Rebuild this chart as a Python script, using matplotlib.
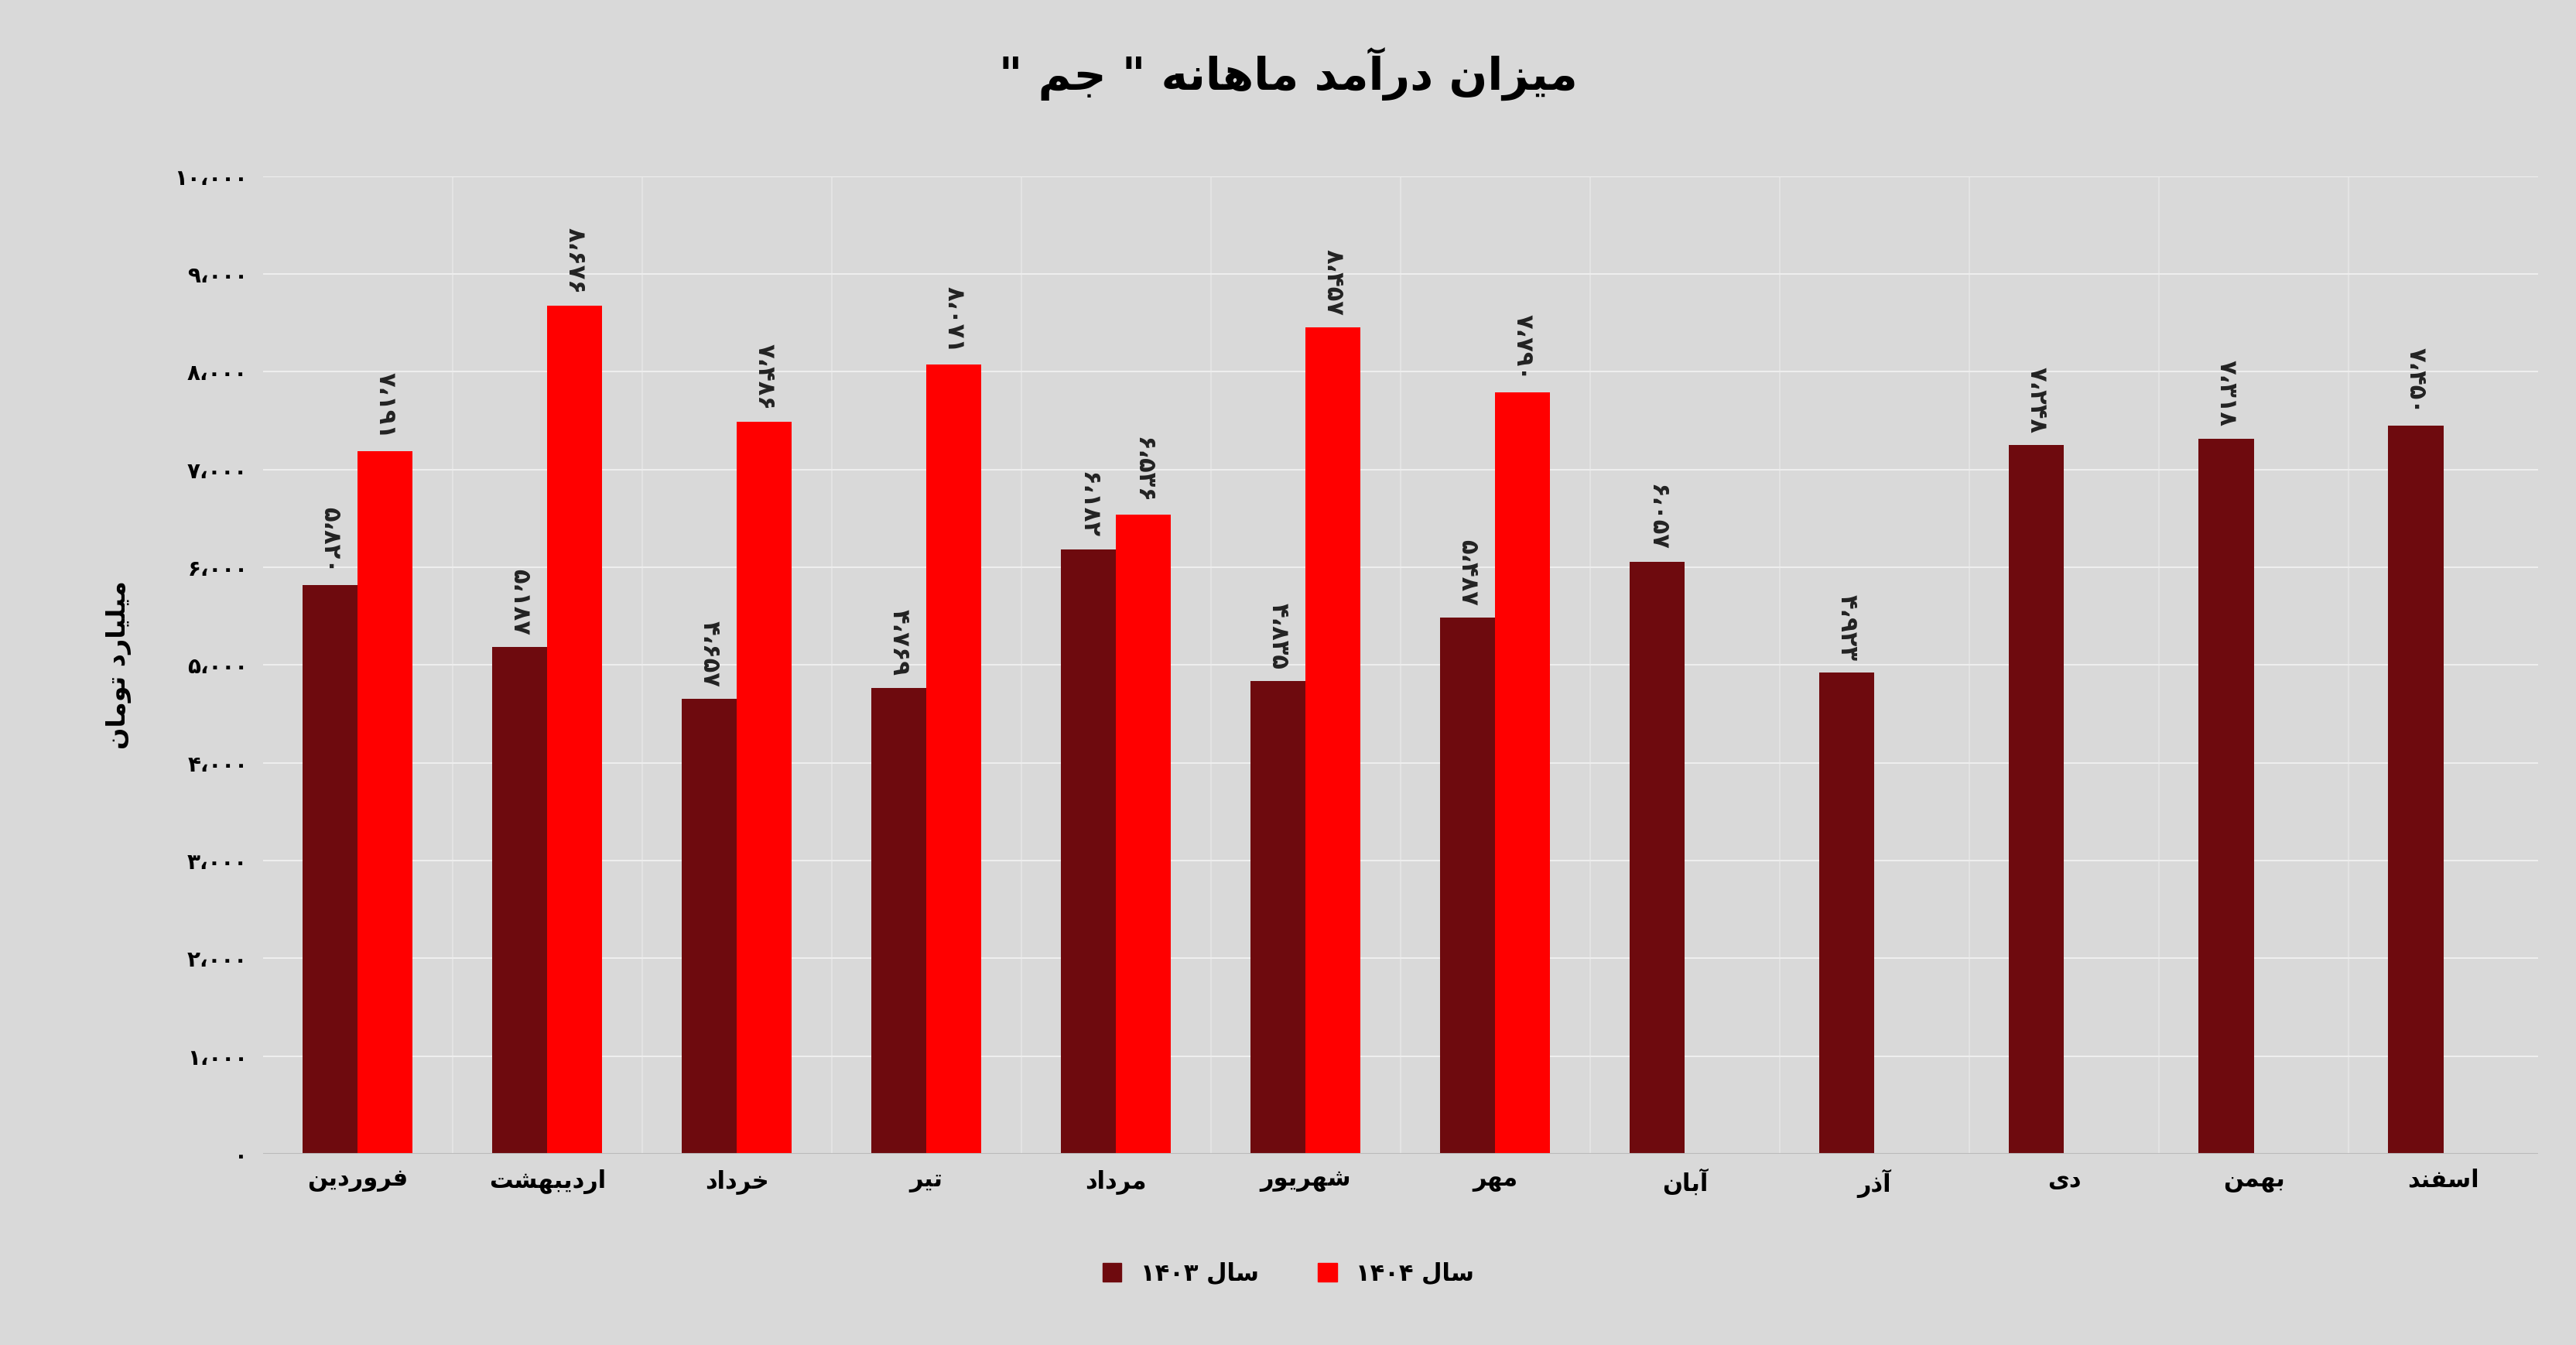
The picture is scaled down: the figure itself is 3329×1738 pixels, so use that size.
import matplotlib.pyplot as plt
import numpy as np

plt.rcParams['font.family'] = ['DejaVu Sans']

months = ['فروردین', 'اردیبهشت', 'خرداد', 'تیر', 'مرداد', 'شهریور', 'مهر',
          'آبان', 'آذر', 'دی', 'بهمن', 'اسفند']
v1403 = [5820, 5187, 4657, 4769, 6182, 4835, 5487, 6057, 4923, 7248, 7318, 7450]
v1404 = [7191, 8676, 7486, 8071, 6536, 8457, 7790]
title = 'میزان درآمد ماهانه " جم "'
ylabel = 'میلیارد تومان'

# minimal arabic shaping: isolated, final, initial, medial
FORMS = {
    'ا': (0xFE8D, 0xFE8E, None, None), 'آ': (0xFE81, 0xFE82, None, None),
    'ب': (0xFE8F, 0xFE90, 0xFE91, 0xFE92), 'ت': (0xFE95, 0xFE96, 0xFE97, 0xFE98),
    'ج': (0xFE9D, 0xFE9E, 0xFE9F, 0xFEA0), 'خ': (0xFEA5, 0xFEA6, 0xFEA7, 0xFEA8),
    'د': (0xFEA9, 0xFEAA, None, None), 'ذ': (0xFEAB, 0xFEAC, None, None),
    'ر': (0xFEAD, 0xFEAE, None, None), 'ز': (0xFEAF, 0xFEB0, None, None),
    'س': (0xFEB1, 0xFEB2, 0xFEB3, 0xFEB4), 'ش': (0xFEB5, 0xFEB6, 0xFEB7, 0xFEB8),
    'ف': (0xFED1, 0xFED2, 0xFED3, 0xFED4), 'ل': (0xFEDD, 0xFEDE, 0xFEDF, 0xFEE0),
    'م': (0xFEE1, 0xFEE2, 0xFEE3, 0xFEE4), 'ن': (0xFEE5, 0xFEE6, 0xFEE7, 0xFEE8),
    'ه': (0xFEE9, 0xFEEA, 0xFEEB, 0xFEEC), 'و': (0xFEED, 0xFEEE, None, None),
    'ی': (0xFEEF, 0xFEF0, 0xFEF3, 0xFEF4),
}


def shape(s):
    out = []
    for i, c in enumerate(s):
        if c not in FORMS:
            out.append(c)
            continue
        prev = s[i - 1] if i > 0 else ''
        nxt = s[i + 1] if i + 1 < len(s) else ''
        jp = prev in FORMS and FORMS[prev][2] is not None
        jn = nxt in FORMS and FORMS[c][2] is not None
        f = FORMS[c]
        if jp and jn:
            code = f[3]
        elif jp:
            code = f[1]
        elif jn:
            code = f[2]
        else:
            code = f[0]
        out.append(chr(code))
    return ''.join(out)[::-1]


def fa(n):
    s = f'{n:,}'.replace(',', '،')
    return s.translate(str.maketrans('0123456789', '۰۱۲۳۴۵۶۷۸۹'))


fig = plt.figure(figsize=(33.3, 17.38), dpi=100, facecolor='#D9D9D9')
ax = fig.add_axes([0.102, 0.142, 0.883, 0.727])
ax.set_facecolor('#D9D9D9')

x = np.arange(len(months))
w = 0.29
c1, c2 = '#6E0A0E', '#FF0000'
ax.bar(x - w / 2, v1403, w, color=c1, zorder=3)
ax.bar(x[:len(v1404)] + w / 2, v1404, w, color=c2, zorder=3)
for xi, v in zip(x, v1403):
    ax.text(xi - w / 2, v + 120, fa(v), rotation=-90, ha='center', va='bottom',
            fontsize=22, fontweight='bold', color='#222222')
for xi, v in zip(x, v1404):
    ax.text(xi + w / 2, v + 120, fa(v), rotation=-90, ha='center', va='bottom',
            fontsize=22, fontweight='bold', color='#222222')

ax.set_xlim(-0.5, len(months) - 0.5)
ax.set_ylim(0, 10000)
ax.set_yticks(range(0, 10001, 1000))
ax.set_yticklabels([fa(t) for t in range(0, 10001, 1000)], fontsize=20, fontweight='bold')
ax.set_xticks(x)
ax.set_xticklabels([shape(m) for m in months], fontsize=22, fontweight='bold')
ax.tick_params(length=0, pad=14)
ax.yaxis.grid(True, color='#EEEEEE', linewidth=1.5, zorder=0)
for b in np.arange(0.5, len(months) - 0.5):
    ax.axvline(b, color='#E6E6E6', linewidth=1.2, zorder=0)
for s in ax.spines.values():
    s.set_visible(False)
ax.axhline(0, color='#BBBBBB', linewidth=1.5, zorder=4)

ax.set_ylabel(shape(ylabel), fontsize=24, fontweight='bold', labelpad=40)
fig.suptitle(shape(title), fontsize=42, fontweight='bold', y=0.965)

h1 = plt.Rectangle((0, 0), 1, 1, color=c1)
h2 = plt.Rectangle((0, 0), 1, 1, color=c2)
fig.legend([h1, h2], ['۱۴۰۳ ' + shape('سال'), '۱۴۰۴ ' + shape('سال')],
           loc='center', bbox_to_anchor=(0.5, 0.053), ncol=2, frameon=False,
           prop={'size': 22, 'weight': 'bold'}, handlelength=0.8, handleheight=0.8,
           columnspacing=2.5)

fig.savefig('out.png', dpi=100, facecolor=fig.get_facecolor())
